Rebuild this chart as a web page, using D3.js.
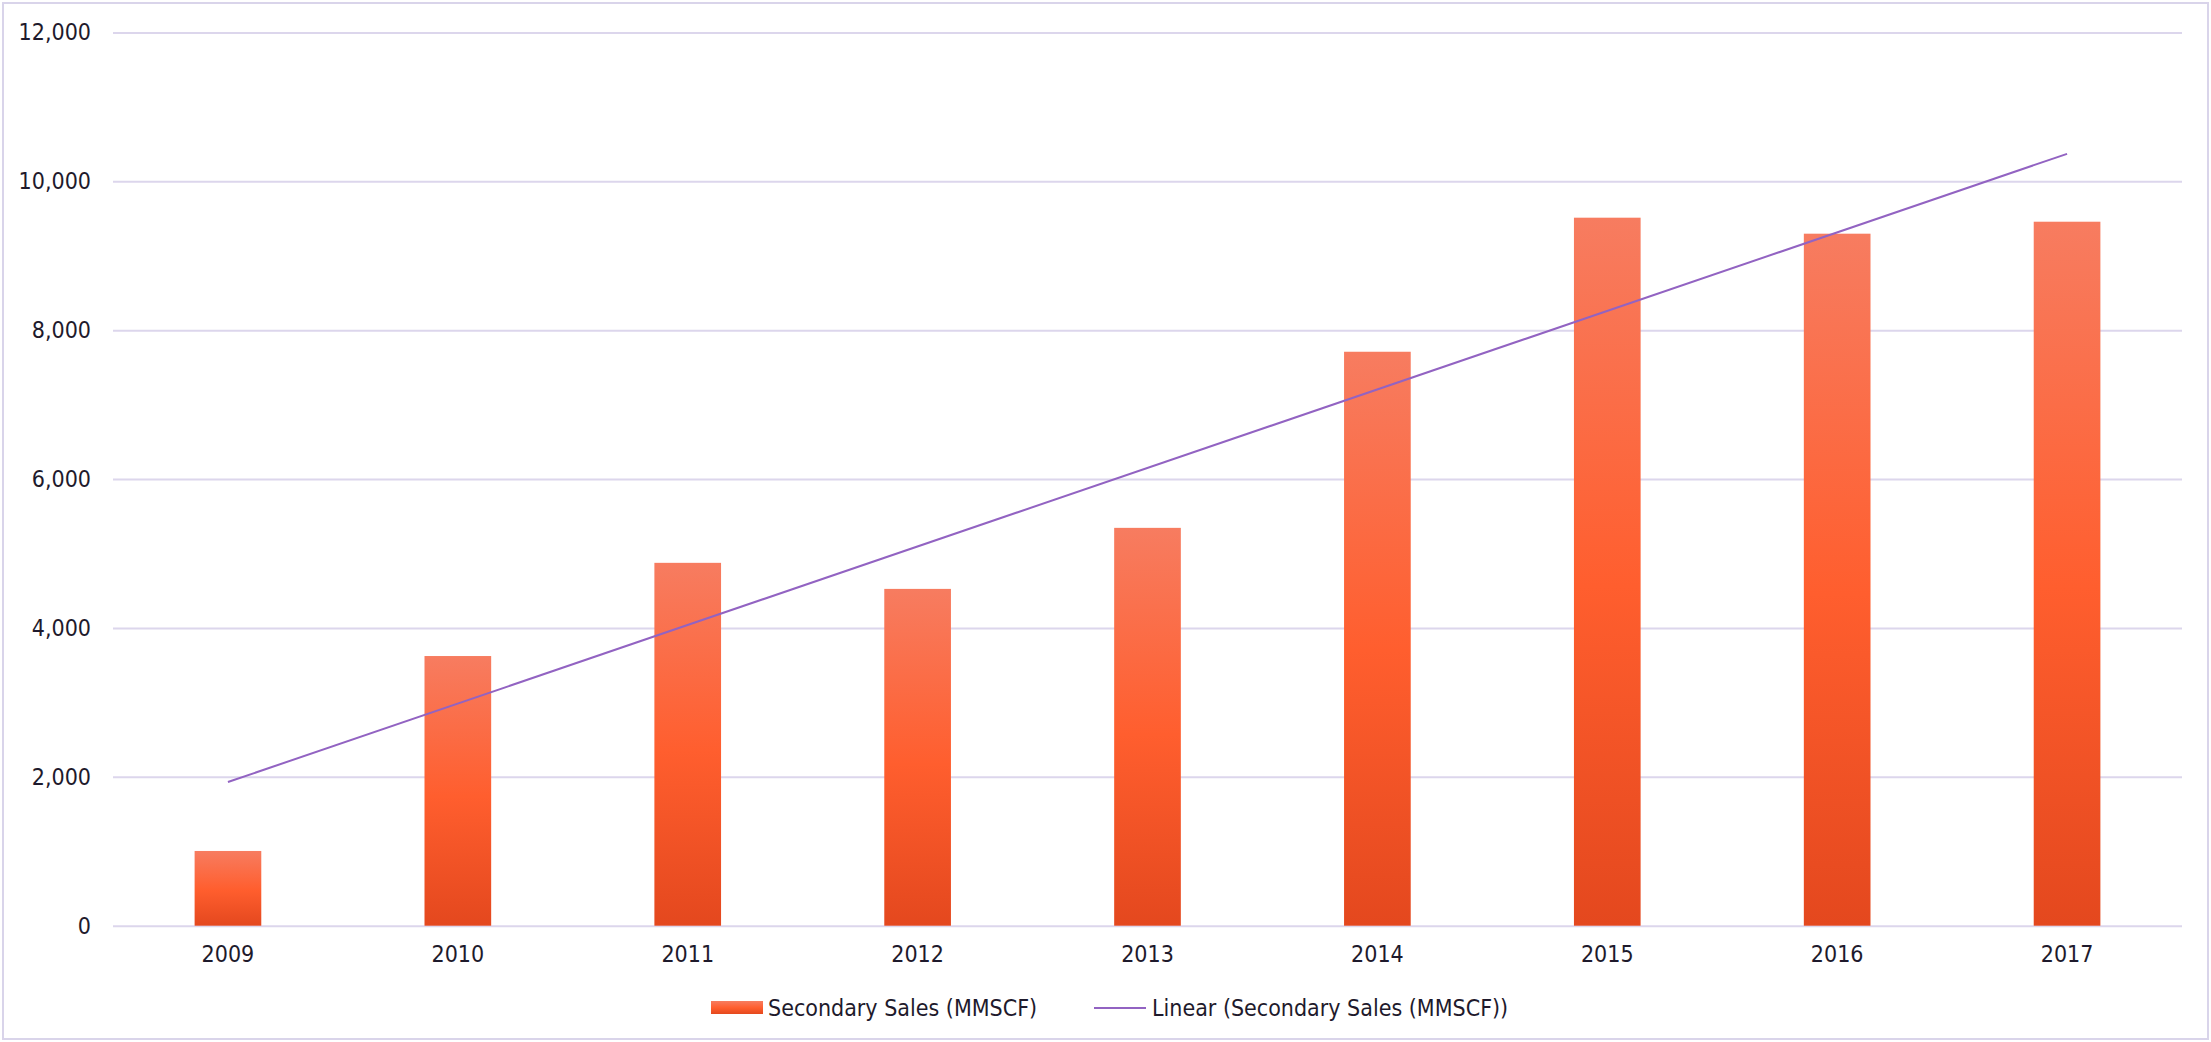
<!DOCTYPE html>
<html>
<head>
<meta charset="utf-8">
<script src="https://cdn.jsdelivr.net/npm/d3@7"></script>
<style>
  html, body { margin: 0; padding: 0; background: #fff; }
  svg { display: block; }
  text { font-family: "DejaVu Sans Condensed", "DejaVu Sans", sans-serif; fill: #1e1a2c; }
</style>
</head>
<body>
<svg id="chart" width="2211" height="1042"></svg>
<script>
// ---- data ----
const categories = ["2009", "2010", "2011", "2012", "2013", "2014", "2015", "2016", "2017"];
const salesValues = [1004, 3623, 4875, 4525, 5345, 7711, 9512, 9297, 9458];
const yTicks = [0, 2000, 4000, 6000, 8000, 10000, 12000];
const seriesName = "Secondary Sales (MMSCF)";
const trendName = "Linear (Secondary Sales (MMSCF))";

// ---- layout ----
const W = 2211, H = 1042;
const plot = { left: 113, right: 2182, top: 32.5, bottom: 925.7 };

const svg = d3.select("#chart");

// border
svg.append("rect")
  .attr("x", 3).attr("y", 3).attr("width", W - 6).attr("height", H - 6)
  .attr("fill", "#fff").attr("stroke", "#d9d4ea").attr("stroke-width", 2);

const x = d3.scaleBand().domain(categories).range([plot.left, plot.right])
  .paddingInner(0.71).paddingOuter(0.355);
const y = d3.scaleLinear().domain([0, 12000]).range([plot.bottom, plot.top]);

// gradient
const defs = svg.append("defs");
const grad = defs.append("linearGradient").attr("id", "barGrad")
  .attr("x1", 0).attr("y1", 0).attr("x2", 0).attr("y2", 1);
grad.append("stop").attr("offset", "0%").attr("stop-color", "#f77c60");
grad.append("stop").attr("offset", "52%").attr("stop-color", "#ff5e2e");
grad.append("stop").attr("offset", "100%").attr("stop-color", "#e4481e");

const legGrad = defs.append("linearGradient").attr("id", "legGrad")
  .attr("x1", 0).attr("y1", 0).attr("x2", 0).attr("y2", 1);
legGrad.append("stop").attr("offset", "0%").attr("stop-color", "#f77c60");
legGrad.append("stop").attr("offset", "52%").attr("stop-color", "#ff5e2e");
legGrad.append("stop").attr("offset", "100%").attr("stop-color", "#e4481e");

// grid + y axis
const yAxis = d3.axisLeft(y).tickValues(yTicks).tickFormat(d3.format(","))
  .tickSize(-(plot.right - plot.left)).tickPadding(22);
const gy = svg.append("g").attr("transform", `translate(${plot.left},0)`).call(yAxis);
gy.select(".domain").remove();
gy.selectAll(".tick line").attr("stroke", "#dcd6ec").attr("stroke-width", 2);
gy.selectAll(".tick text").attr("font-size", 23).attr("fill", "#1e1a2c")
  .style("font-family", '"DejaVu Sans Condensed", "DejaVu Sans", sans-serif');

// bars
svg.append("g").selectAll("rect").data(categories).join("rect")
  .attr("x", d => x(d))
  .attr("width", x.bandwidth())
  .attr("y", (d, i) => y(salesValues[i]))
  .attr("height", (d, i) => y(0) - y(salesValues[i]))
  .attr("fill", "url(#barGrad)");

// x axis
const xAxis = d3.axisBottom(x).tickSize(0).tickPadding(20);
const gx = svg.append("g").attr("transform", `translate(0,${plot.bottom})`).call(xAxis);
gx.select(".domain").remove();
gx.selectAll(".tick text").attr("font-size", 23).attr("fill", "#1e1a2c")
  .style("font-family", '"DejaVu Sans Condensed", "DejaVu Sans", sans-serif');

// linear trendline (least squares on the series)
const n = salesValues.length;
const xs = d3.range(n);
const mx = d3.mean(xs), my = d3.mean(salesValues);
const slope = d3.sum(xs, i => (i - mx) * (salesValues[i] - my)) / d3.sum(xs, i => (i - mx) ** 2);
const intercept = my - slope * mx;
const trend = [0, n - 1].map(i => ({ cat: categories[i], v: intercept + slope * i }));
svg.append("path")
  .datum(trend)
  .attr("d", d3.line().x(d => x(d.cat) + x.bandwidth() / 2).y(d => y(d.v)))
  .attr("fill", "none").attr("stroke", "#9263c2").attr("stroke-width", 2);

// legend
const leg = svg.append("g");
const ly = 1008;
leg.append("rect").attr("x", 711).attr("y", ly - 7).attr("width", 52).attr("height", 13)
  .attr("fill", "url(#legGrad)");
leg.append("text").attr("x", 768).attr("y", ly).attr("dy", "0.35em")
  .attr("font-size", 23).text(seriesName);
leg.append("line").attr("x1", 1094).attr("x2", 1146).attr("y1", ly).attr("y2", ly)
  .attr("stroke", "#9263c2").attr("stroke-width", 2);
leg.append("text").attr("x", 1152).attr("y", ly).attr("dy", "0.35em")
  .attr("font-size", 23).text(trendName);
</script>
</body>
</html>
